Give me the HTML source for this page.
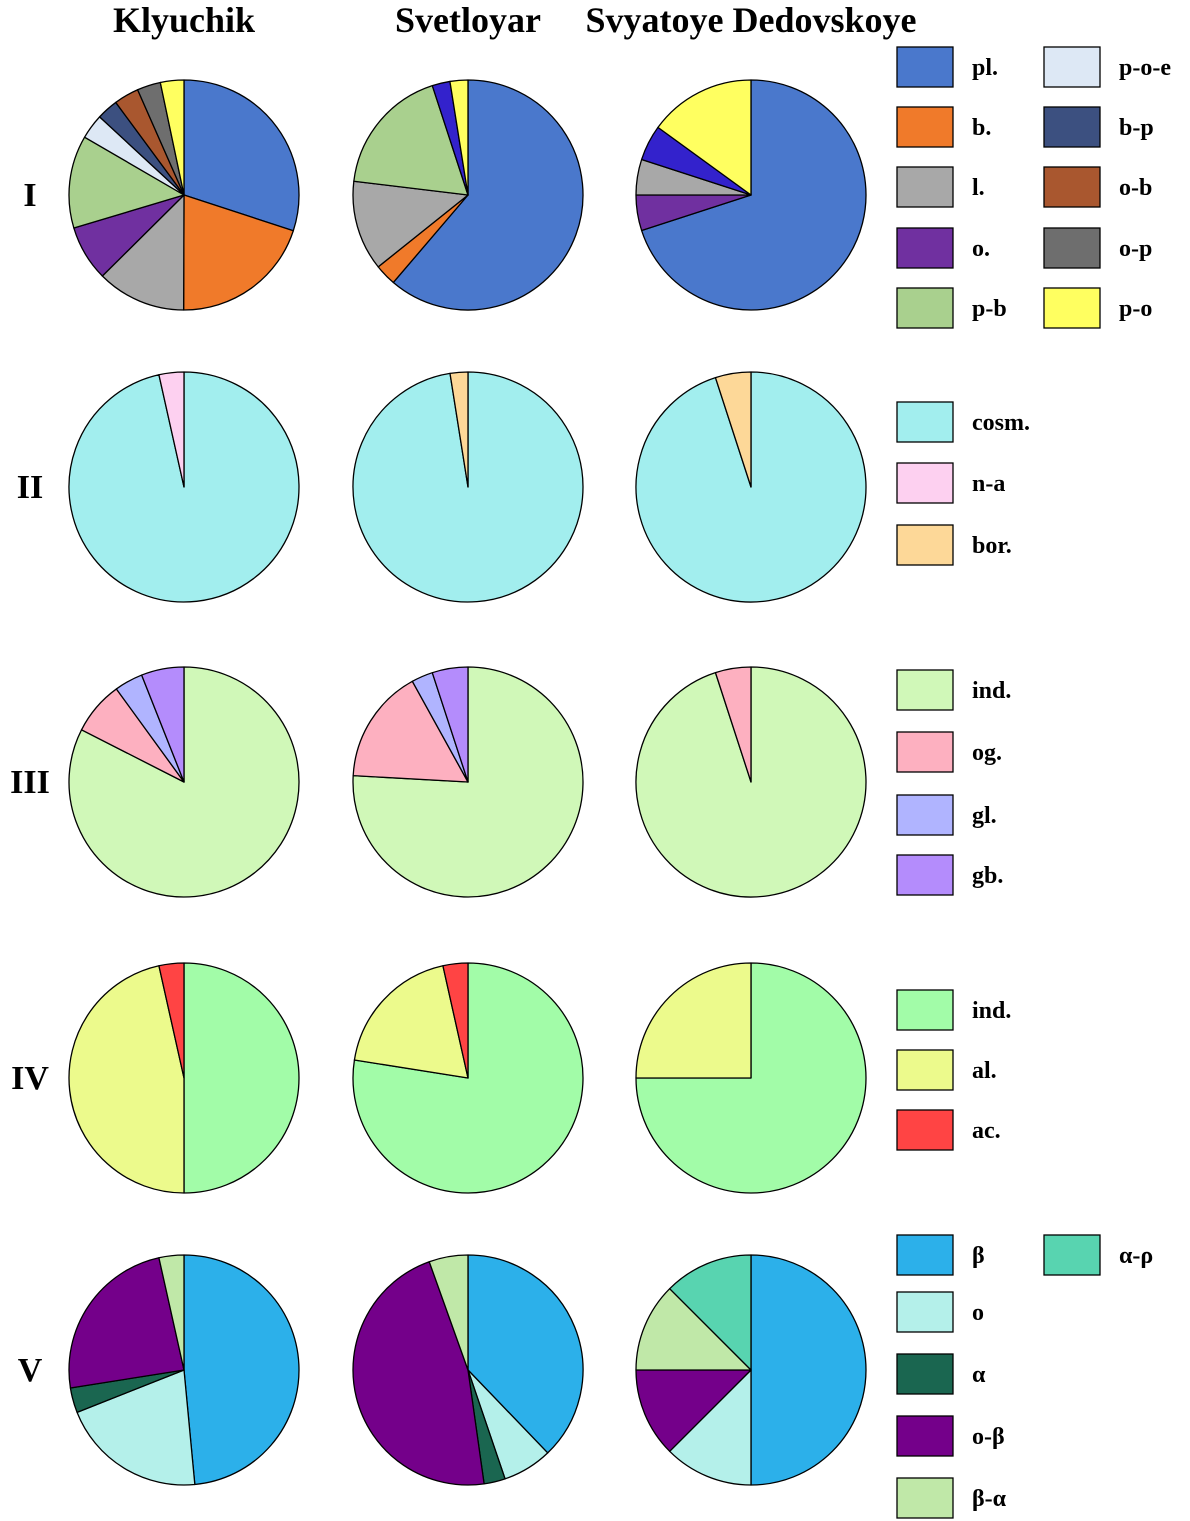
<!DOCTYPE html>
<html><head><meta charset="utf-8"><style>
body{margin:0;background:#fff;width:1190px;height:1521px;overflow:hidden}
svg{display:block}
text{font-family:"Liberation Serif",serif;font-weight:bold;fill:#000}
</style></head><body>
<svg id="chart" width="1190" height="1521" xmlns="http://www.w3.org/2000/svg"></svg>
<script>
const siteNames=["Klyuchik","Svetloyar","Svyatoye Dedovskoye"];
const rowLabels=["I","II","III","IV","V"];
const rowCats=[
 ["pl.","b.","l.","o.","p-b","p-o-e","b-p","o-b","o-p","p-o","o2"],
 ["cosm.","n-a","bor."],
 ["ind.","og.","gl.","gb."],
 ["ind.","al.","ac."],
 ["β","o","α","o-β","β-α","α-ρ"]
];
const rowColors=[
 ["#4a78cc","#f07a2a","#a8a8a8","#7030a0","#a9d08e","#dde8f5","#3c5080","#a9572f","#6e6e6e","#ffff60","#3322cc"],
 ["#a2eeee","#fdd0f0","#fdd898"],
 ["#d0f8b8","#fdb0c0","#b0b4ff","#b48cfc"],
 ["#a2fca8","#ecfa8c","#ff4444"],
 ["#2cb0ea","#b4f0ea","#1a6650","#74008a","#c0e8a8","#58d4b0"]
];
const vals1K=[30,20,12.5,7.8,13,3.5,3,3.5,3.3,3.3,0];
const vals1S=[61,3,12.6,0,18,0,0,0,0,2.5,2.5];
const vals1D=[70,0,5,5,0,0,0,0,0,15,5];
const vals2K=[96.5,3.5,0];
const vals2S=[97.5,0,2.5];
const vals2D=[95,0,5];
const vals3K=[82.5,7.5,4,6];
const vals3S=[75.5,16,3,5];
const vals3D=[95,5,0,0];
const vals4K=[50,46.5,3.5];
const vals4S=[77.5,19,3.5];
const vals4D=[75,25,0];
const vals5K=[48.5,20.5,3.5,24,3.5,0];
const vals5S=[38,7,3,47,5.5,0];
const vals5D=[50,12.5,0,12.5,12.5,12.5];
const order1=[0,1,2,3,10,4,5,6,7,8,9];
const order1D=[0,3,2,10,9];
const order1S=[0,1,2,4,10,9];
const allVals=[[vals1K,vals1S,vals1D],[vals2K,vals2S,vals2D],[vals3K,vals3S,vals3D],[vals4K,vals4S,vals4D],[vals5K,vals5S,vals5D]];
const svg=document.getElementById('chart');
const NS="http://www.w3.org/2000/svg";
const colX=[184,468,751], rowY=[195,487,782,1078,1370], R=115;
function mk(t,a){const e=document.createElementNS(NS,t);for(const k in a)e.setAttribute(k,a[k]);svg.appendChild(e);return e;}
function pt(cx,cy,deg){const r=deg*Math.PI/180;return [cx+R*Math.sin(r),cy-R*Math.cos(r)];}
siteNames.forEach((n,i)=>{const t=mk('text',{x:colX[i],y:32,'text-anchor':'middle','font-size':36});t.textContent=n;

});
rowLabels.forEach((n,i)=>{const t=mk('text',{x:30,y:rowY[i]+11,'text-anchor':'middle','font-size':34});t.textContent=n;

});
allVals.forEach((sites,ri)=>{sites.forEach((v,si)=>{
 const cx=colX[si],cy=rowY[ri];
 let ord=v.map((_,i)=>i);
 if(ri==0)ord=si==0?order1:(si==1?order1S:order1D);
 const tot=v.reduce((a,b)=>a+b,0);let a=0;
 ord.forEach(ci=>{const val=v[ci];if(!val)return;const a0=a;a+=val/tot*360;
  let el;
  if(val/tot>0.999){el=mk('circle',{cx:cx,cy:cy,r:R});}
  else{const p0=pt(cx,cy,a0),p1=pt(cx,cy,a);
  el=mk('path',{d:`M${cx},${cy}L${p0[0]},${p0[1]}A${R},${R} 0 ${a-a0>180?1:0} 1 ${p1[0]},${p1[1]}Z`});}
  el.setAttribute('fill',rowColors[ri][ci]);el.setAttribute('stroke','#000');el.setAttribute('stroke-width','1.3');el.setAttribute('stroke-linejoin','round');
  
  
 });
});});
const legendEntries=[
 [[0,897,47],[5,1044,47],[1,897,107],[6,1044,107],[2,897,167],[7,1044,167],[3,897,228],[8,1044,228],[4,897,288],[9,1044,288]],
 [[0,897,402],[1,897,463],[2,897,525]],
 [[0,897,670],[1,897,732],[2,897,795],[3,897,855]],
 [[0,897,990],[1,897,1050],[2,897,1110]],
 [[0,897,1235],[5,1044,1235],[1,897,1292],[2,897,1354],[3,897,1416],[4,897,1478]]
];
legendEntries.forEach((es,ri)=>es.forEach(([ci,x,y])=>{
 const r=mk('rect',{x:x,y:y,width:56,height:40,fill:rowColors[ri][ci],stroke:'#000','stroke-width':1.3});
 
 
 const t=mk('text',{x:x+75,y:y+28,'font-size':24});t.textContent=rowCats[ri][ci];
 
 
}));
</script>
</body></html>
